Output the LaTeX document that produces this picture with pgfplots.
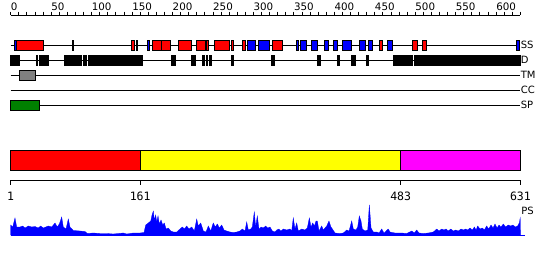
\documentclass[border=0pt]{standalone}
\usepackage{pgfplots}
\pgfplotsset{compat=1.18}
\usepackage{fontspec}
\setmainfont{DejaVu Sans}
\newfontfamily\monofont{DejaVu Sans Mono}
\definecolor{grn}{RGB}{0,128,0}
\definecolor{gry}{RGB}{128,128,128}
\definecolor{rd}{RGB}{255,0,0}
\definecolor{bl}{RGB}{0,0,255}
\definecolor{ylw}{RGB}{255,255,0}
\definecolor{mag}{RGB}{255,0,255}
\begin{document}
\begin{tikzpicture}
\begin{axis}[
  width=550pt, height=260pt, scale only axis,
  xmin=-13.23, xmax=666.6, ymin=0, ymax=260, y dir=reverse,
  hide axis, clip=false,
  bx/.style={draw=black, line width=1pt, fill=#1},
  ln/.style={black, line width=1pt},
]
\path (rel axis cs:0,0) rectangle (rel axis cs:1,1);
% top ruler
\addplot[ln] coordinates {(0,15) (630,15)};
\pgfplotsinvokeforeach{0,10,...,630}{\addplot[black, line width=0.9pt] coordinates {(#1,11.5) (#1,15)};}
\pgfplotsinvokeforeach{0,50,...,600}{\node[anchor=base west, inner sep=0pt, font=\fontsize{10.3}{11}\selectfont] at (axis cs:#1,10.3) {#1};}
% row lines
\addplot[ln] coordinates {(0,45) (630,45)};
\addplot[ln] coordinates {(0,60) (630,60)};
\addplot[ln] coordinates {(0,75) (630,75)};
\addplot[ln] coordinates {(0,90) (630,90)};
\addplot[ln] coordinates {(0,105) (630,105)};
% SS row
\addplot[bx=bl] coordinates {(4.9,40) (7.4,40) (7.4,50) (4.9,50)} -- cycle;
\addplot[bx=rd] coordinates {(7.4,40) (40.3,40) (40.3,50) (7.4,50)} -- cycle;
\addplot[bx=black] coordinates {(77,40) (78,40) (78,50) (77,50)} -- cycle;
\addplot[bx=rd] coordinates {(148.7,40) (152.8,40) (152.8,50) (148.7,50)} -- cycle;
\addplot[bx=black] coordinates {(155.2,40) (156.2,40) (156.2,50) (155.2,50)} -- cycle;
\addplot[bx=bl] coordinates {(168.8,40) (171.3,40) (171.3,50) (168.8,50)} -- cycle;
\addplot[bx=rd] coordinates {(175,40) (186.7,40) (186.7,50) (175,50)} -- cycle;
\addplot[bx=rd] coordinates {(186.7,40) (197.8,40) (197.8,50) (186.7,50)} -- cycle;
\addplot[bx=rd] coordinates {(207.2,40) (223.7,40) (223.7,50) (207.2,50)} -- cycle;
\addplot[bx=rd] coordinates {(229.9,40) (241.2,40) (241.2,50) (229.9,50)} -- cycle;
\addplot[bx=rd] coordinates {(241.4,40) (244.3,40) (244.3,50) (241.4,50)} -- cycle;
\addplot[bx=rd] coordinates {(251.7,40) (270.7,40) (270.7,50) (251.7,50)} -- cycle;
\addplot[bx=rd] coordinates {(272.7,40) (275.6,40) (275.6,50) (272.7,50)} -- cycle;
\addplot[bx=rd] coordinates {(286.3,40) (289.6,40) (289.6,50) (286.3,50)} -- cycle;
\addplot[bx=bl] coordinates {(292.5,40) (302,40) (302,50) (292.5,50)} -- cycle;
\addplot[bx=bl] coordinates {(306,40) (319.7,40) (319.7,50) (306,50)} -- cycle;
\addplot[bx=rd] coordinates {(323.9,40) (336.2,40) (336.2,50) (323.9,50)} -- cycle;
\addplot[bx=bl] coordinates {(352.7,40) (355.5,40) (355.5,50) (352.7,50)} -- cycle;
\addplot[bx=bl] coordinates {(357.6,40) (365.9,40) (365.9,50) (357.6,50)} -- cycle;
\addplot[bx=bl] coordinates {(371.2,40) (379.5,40) (379.5,50) (371.2,50)} -- cycle;
\addplot[bx=bl] coordinates {(387.3,40) (392.6,40) (392.6,50) (387.3,50)} -- cycle;
\addplot[bx=bl] coordinates {(399.6,40) (404.2,40) (404.2,50) (399.6,50)} -- cycle;
\addplot[bx=bl] coordinates {(409.9,40) (421.5,40) (421.5,50) (409.9,50)} -- cycle;
\addplot[bx=bl] coordinates {(430.9,40) (438.8,40) (438.8,50) (430.9,50)} -- cycle;
\addplot[bx=bl] coordinates {(442,40) (447,40) (447,50) (442,50)} -- cycle;
\addplot[bx=rd] coordinates {(455.6,40) (459.3,40) (459.3,50) (455.6,50)} -- cycle;
\addplot[bx=bl] coordinates {(465.5,40) (471.7,40) (471.7,50) (465.5,50)} -- cycle;
\addplot[bx=rd] coordinates {(496.4,40) (503.1,40) (503.1,50) (496.4,50)} -- cycle;
\addplot[bx=rd] coordinates {(508.8,40) (514.2,40) (514.2,50) (508.8,50)} -- cycle;
\addplot[bx=bl] coordinates {(625.5,40) (628.3,40) (628.3,50) (625.5,50)} -- cycle;
% D row
\addplot[bx=black] coordinates {(0,55) (10.3,55) (10.3,65) (0,65)} -- cycle;
\addplot[bx=black] coordinates {(31.3,55) (33.4,55) (33.4,65) (31.3,65)} -- cycle;
\addplot[bx=black] coordinates {(35.4,55) (47.3,55) (47.3,65) (35.4,65)} -- cycle;
\addplot[bx=black] coordinates {(67.1,55) (72.1,55) (72.1,65) (67.1,65)} -- cycle;
\addplot[bx=black] coordinates {(73.3,55) (87.8,55) (87.8,65) (73.3,65)} -- cycle;
\addplot[bx=black] coordinates {(89.7,55) (93.1,55) (93.1,65) (89.7,65)} -- cycle;
\addplot[bx=black] coordinates {(95.9,55) (104.2,55) (104.2,65) (95.9,65)} -- cycle;
\addplot[bx=black] coordinates {(106.3,55) (162.7,55) (162.7,65) (106.3,65)} -- cycle;
\addplot[bx=black] coordinates {(199,55) (204,55) (204,65) (199,65)} -- cycle;
\addplot[bx=black] coordinates {(222.9,55) (229,55) (229,65) (222.9,65)} -- cycle;
\addplot[bx=black] coordinates {(237.3,55) (239.3,55) (239.3,65) (237.3,65)} -- cycle;
\addplot[bx=black] coordinates {(241.4,55) (243.5,55) (243.5,65) (241.4,65)} -- cycle;
\addplot[bx=black] coordinates {(245.5,55) (248.5,55) (248.5,65) (245.5,65)} -- cycle;
\addplot[bx=black] coordinates {(272.3,55) (276,55) (276,65) (272.3,65)} -- cycle;
\addplot[bx=black] coordinates {(322,55) (326,55) (326,65) (322,65)} -- cycle;
\addplot[bx=black] coordinates {(378.6,55) (383,55) (383,65) (378.6,65)} -- cycle;
\addplot[bx=black] coordinates {(404.4,55) (406.8,55) (406.8,65) (404.4,65)} -- cycle;
\addplot[bx=black] coordinates {(421.8,55) (426.6,55) (426.6,65) (421.8,65)} -- cycle;
\addplot[bx=black] coordinates {(440.3,55) (442.7,55) (442.7,65) (440.3,65)} -- cycle;
\addplot[bx=black] coordinates {(472.7,55) (496.4,55) (496.4,65) (472.7,65)} -- cycle;
\addplot[bx=black] coordinates {(498.5,55) (630,55) (630,65) (498.5,65)} -- cycle;
% TM and SP
\addplot[bx=gry] coordinates {(10.6,70) (30.9,70) (30.9,80) (10.6,80)} -- cycle;
\addplot[bx=grn] coordinates {(0,100) (36.2,100) (36.2,110) (0,110)} -- cycle;
% row labels
\node[anchor=west, inner sep=0pt, font=\fontsize{10}{12}\selectfont] at (axis cs:630.3,45) {SS};
\node[anchor=west, inner sep=0pt, font=\fontsize{10}{12}\selectfont] at (axis cs:630.3,60) {D};
\node[anchor=west, inner sep=0pt, font=\fontsize{10}{12}\selectfont] at (axis cs:630.3,75) {TM};
\node[anchor=west, inner sep=0pt, font=\fontsize{10}{12}\selectfont] at (axis cs:630.3,90) {CC};
\node[anchor=west, inner sep=0pt, font=\fontsize{10}{12}\selectfont] at (axis cs:630.3,105) {SP};
% domain bar
\addplot[bx=rd] coordinates {(0,150) (160,150) (160,170) (0,170)} -- cycle;
\addplot[bx=ylw] coordinates {(160,150) (482,150) (482,170) (160,170)} -- cycle;
\addplot[bx=mag] coordinates {(482,150) (630,150) (630,170) (482,170)} -- cycle;
% bottom axis
\addplot[ln] coordinates {(0,180) (630,180)};
\addplot[ln] coordinates {(0,180) (0,185)};
\addplot[ln] coordinates {(160,180) (160,185)};
\addplot[ln] coordinates {(482,180) (482,185)};
\addplot[ln] coordinates {(630,180) (630,185)};
\node[anchor=base, inner sep=0pt, font=\monofont\fontsize{11.5}{13}\selectfont] at (axis cs:0,200) {1};
\node[anchor=base, inner sep=0pt, font=\monofont\fontsize{11.5}{13}\selectfont] at (axis cs:160,200) {161};
\node[anchor=base, inner sep=0pt, font=\monofont\fontsize{11.5}{13}\selectfont] at (axis cs:482,200) {483};
\node[anchor=base, inner sep=0pt, font=\monofont\fontsize{11.5}{13}\selectfont] at (axis cs:630,200) {631};
% PS profile
\addplot[fill=bl, draw=bl, line width=0.3pt] table[x=X, y expr=235-\thisrow{h}] {
X h
0 0
0 10
2.5 8
5.3 17
7.4 8
11.5 8
14.8 9
17.7 7
21.8 9
26 8
30 8.5
34.1 7
37 9
40.3 7
46.5 9
50.7 8
54.8 12
57.6 8
60.1 11
63 18
65 8
68.4 6
71.2 16
73.3 8
77.4 4.5
85.7 4
91.8 3.5
94.7 1.5
102 2
110.4 1.5
118.7 1.5
126.8 1
139.2 2
143.4 1
151.5 2
159.8 2
164.8 2.5
166.9 10
170.1 12
173.1 14
174.7 20
176.3 24
177.5 15
179.2 20
180.5 13
182.1 19
183.7 11
185.8 15
187.9 10
189.9 12
192 6
194.8 7
197.8 4
201 3
205.2 3
209.3 6
212.1 8
214.6 6
217.5 9
220.4 6
223.7 8
227 4
229.9 16
231.9 9
234.9 12
238.1 4
241.4 3
244.3 9
247.2 4
250.4 12
252.9 8
255.4 11
257.9 7
260.8 10
263.7 5
267 4
271.1 3
275.2 2.5
279.4 3
283.4 4
286.3 6
289.6 4
291.7 13
293.7 5
296.7 6
298.6 8
301.1 23
302.8 8
304.8 19
306.9 6
309.4 8
312.2 7
315.2 9
317.7 7
320.5 8
323.4 4
326.7 3
328.8 5
331.6 6
334.1 4
337 6
341.2 5
345.2 6
347.3 4
349.3 17
351.4 6
353.5 12
355.5 4
359.7 6
363.8 5
366.6 7
369.1 17
371.2 8
373.3 12
375.3 9
377.4 14
379 14
381.1 4
384.4 9
386.4 5
388.5 7
390.6 9
393.4 14
395.9 8
398.4 5
400.9 2
407 1.5
411.2 2
415.3 5
418.2 4
421.5 14
423.5 6
426.8 5
428.9 8
430.9 19
433 14
434.6 6
437.9 4
441.3 5
443.3 30
445.4 7
448.2 3
452.4 3
455.3 2
458.6 6
461.4 2
463.9 4
466.7 6
468.8 3
475 2
483.3 2
489.5 1.5
495.7 4
498.9 2
501.8 5
504.7 2
510 1.5
516.2 2
522.4 3
526.6 6
529.4 4
532.8 6
535.6 5
538.1 6
540.9 4
543.9 6
547.1 4
550.1 5
553.3 4
556.6 6
559.5 5
562.4 6
564.9 5
567.7 7
570.6 5
573.1 8
575.2 5
577.2 9
580.1 6
582.9 7
585.4 5
588.3 9
590.8 6
593.7 10
596.2 7
598.6 11
601.1 7
603.6 10
606 8
608.9 11
611.8 8
615 10
618 9
620.8 10
623.6 8
626.6 9
628.6 12
629.8 17
630 0
};
\addplot[bl, line width=1pt] coordinates {(0,235) (635.7,235)};
\node[anchor=west, inner sep=0pt, font=\fontsize{10}{12}\selectfont] at (axis cs:631,210.5) {PS};
\end{axis}
\end{tikzpicture}
\end{document}
